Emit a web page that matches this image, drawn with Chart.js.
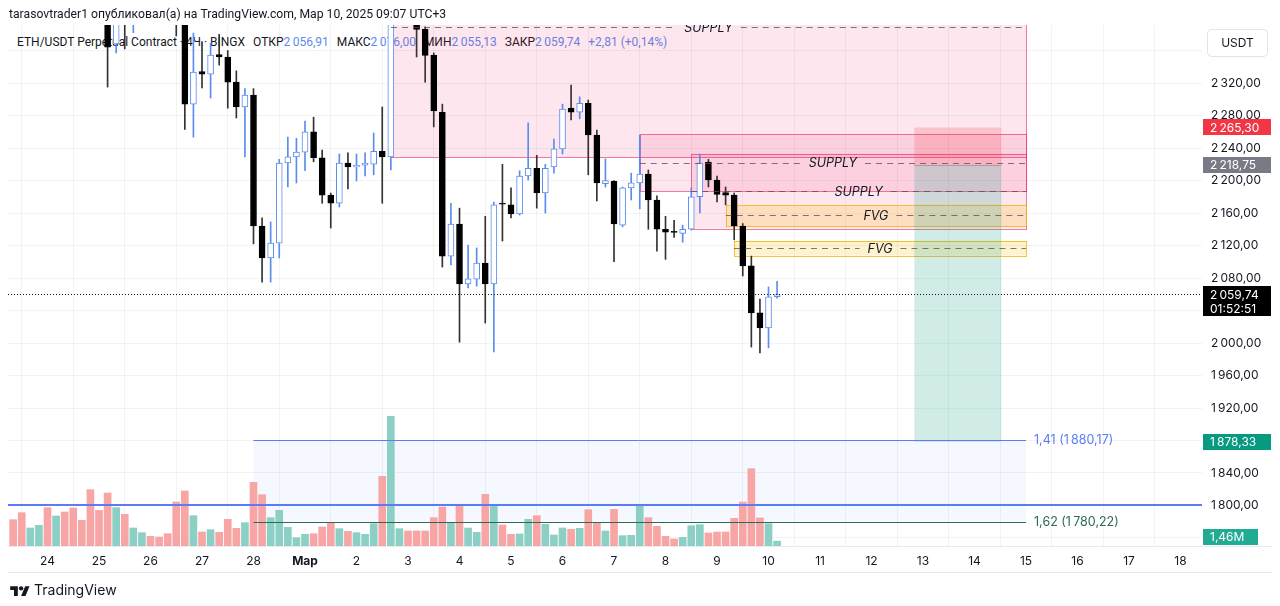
<!DOCTYPE html>
<html>
<head>
<meta charset="utf-8">
<script src="https://cdn.jsdelivr.net/npm/chart.js@4.4.1/dist/chart.umd.min.js"></script>
<style>
    body { margin: 0; background: #fff; font-family: Roboto, Inter, 'Noto Sans', sans-serif; color: #131722; }
    #wrap { position: relative; width: 1280px; height: 606px; overflow: hidden; }
    #chart { position: absolute; left: 0; top: 0; z-index: 2; }
    .hdr { position: absolute; left: 9px; top: 6px; font-size: 12.2px; line-height: 16px; white-space: nowrap; z-index: 3; }
    .legend { position: absolute; left: 17px; top: 34px; font-size: 12px; line-height: 16px; white-space: nowrap; z-index: 1; }
    .legend .k { margin-left: 8px; }
    .legend .v { color: #5b8def; }
    .legend .ch { margin-left: 8px; }
    .logo { position: absolute; left: 10px; top: 581px; font-size: 14px; line-height: 18px; display: flex; align-items: center; gap: 4px; z-index: 3; font-family: Inter, sans-serif; }
</style>
</head>
<body>
<div id="wrap">
    <div class="hdr">tarasovtrader1 опубликовал(а) на TradingView.com, Мар 10, 2025 09:07 UTC+3</div>
    <div class="legend">ETH/USDT Perpetual Contract · 4Ч · BINGX<span class="k">ОТКР</span><span class="v">2&#8201;056,91</span><span class="k">МАКС</span><span class="v">2&#8201;076,00</span><span class="k">МИН</span><span class="v">2&#8201;055,13</span><span class="k">ЗАКР</span><span class="v">2&#8201;059,74</span><span class="v ch">+2,81 (+0,14%)</span></div>
    <canvas id="chart" width="1280" height="606"></canvas>
    <div class="logo">
        <svg width="20" height="12" viewBox="0 0 36 22"><path d="M14 22H7V11H0V4h14v18z" fill="#131722"/><circle cx="20" cy="8" r="4" fill="#131722"/><path d="M28 22h-8l7.5-18h8L28 22z" fill="#131722"/></svg>
        <span>TradingView</span>
    </div>
</div>
<script>
// 4h candles, index 0 = 24 Feb 00:00; x axis unit is one day
const firstCandle = -4;

const opens = [2830, 2805, 2780, 2800, 2815, 2740, 2755, 2675, 2620, 2525,
    2490, 2450, 2368, 2430, 2400, 2430, 2470, 2455, 2440, 2420,
    2395, 2294, 2334, 2331, 2355, 2352, 2321, 2290.5, 2305, 2144,
    2104.6, 2123, 2221.5, 2229, 2235, 2260, 2228, 2182, 2172, 2221.5,
    2216.6, 2219, 2220, 2236, 2229, 2510, 2530, 2480, 2386, 2354,
    2284, 2107, 2146.5, 2072.6, 2078.5, 2098.5, 2072.6, 2172, 2170, 2159,
    2205.5, 2215, 2184.6, 2216.6, 2239, 2289, 2284, 2295, 2256, 2196,
    2199, 2145, 2191, 2197, 2208, 2176, 2140, 2137.5, 2135, 2140,
    2180, 2222.8, 2200.6, 2185, 2182, 2144, 2095, 2037, 2018.5, 2056.91];

const highs = [2845, 2820, 2815, 2830, 2825, 2770, 2760, 2690, 2640, 2545,
    2510, 2470, 2440, 2445, 2450, 2490, 2485, 2470, 2455, 2430,
    2400, 2381.5, 2371, 2369, 2380, 2360, 2335, 2313, 2313, 2154,
    2149, 2226, 2253.5, 2252, 2273, 2278, 2237.5, 2184.6, 2232.6, 2234,
    2232.6, 2234, 2258.5, 2290.5, 2550, 2550, 2540, 2490, 2389, 2357,
    2294, 2172, 2166, 2120.6, 2117, 2156, 2173.5, 2220, 2191, 2212,
    2271, 2231, 2220, 2251, 2294, 2317.5, 2303, 2299, 2262, 2226.5,
    2200, 2192, 2209, 2256, 2213, 2181, 2156, 2151, 2145, 2191,
    2232.6, 2226, 2205.5, 2192, 2184.6, 2147, 2107, 2054, 2069, 2076];

const lows = [2790, 2770, 2765, 2790, 2720, 2720, 2660, 2600, 2510, 2470,
    2430, 2315, 2357, 2362, 2382, 2415, 2440, 2425, 2400, 2378,
    2263, 2253.5, 2314, 2301.5, 2342, 2289, 2277, 2229, 2122, 2075,
    2075, 2104.6, 2192, 2197, 2212, 2223, 2172, 2141.5, 2167.4, 2189.5,
    2199.4, 2205.5, 2207, 2172, 2213, 2480, 2450, 2352, 2321, 2266,
    2093.5, 2096, 2001, 2067.7, 2070, 2024.6, 1989, 2125.5, 2154, 2157.5,
    2200.6, 2166, 2160, 2209, 2232.6, 2274.5, 2276, 2207, 2175, 2192,
    2100, 2143, 2176, 2165, 2140, 2113, 2103, 2130, 2124, 2139,
    2160, 2192, 2173.5, 2170, 2127, 2082.5, 1995, 1987.7, 1994, 2055.13];

const closes = [2805, 2780, 2800, 2815, 2740, 2755, 2675, 2620, 2525, 2490,
    2450, 2364, 2425, 2400, 2430, 2470, 2455, 2440, 2420, 2395,
    2294, 2333.5, 2331, 2354.5, 2352, 2321, 2290.5, 2305, 2144, 2104.6,
    2123, 2221.5, 2229, 2235, 2260, 2228, 2182, 2172, 2221.5, 2216.6,
    2219, 2221.5, 2236, 2229, 2510, 2530, 2480, 2386, 2354, 2285.5,
    2107, 2146.5, 2072.6, 2079, 2098.5, 2072.6, 2170, 2171, 2159, 2205.5,
    2215, 2184.6, 2215, 2239, 2288, 2284, 2295, 2256, 2197, 2200,
    2146.5, 2191, 2197, 2208, 2176, 2140, 2136.5, 2136, 2140, 2180,
    2221.5, 2200.6, 2183, 2182, 2144, 2095, 2037, 2018.5, 2056.91, 2059.74];

// volume, millions
const volumes = [7.9, 10.0, 5.4, 6.2, 11.5, 9.0, 10.2, 11.4, 7.7, 16.9,
    10.7, 15.9, 11.5, 9.5, 5.4, 4.0, 2.9, 2.7, 3.7, 13.2,
    16.5, 9.1, 4.2, 4.9, 4.1, 8.0, 5.3, 7.0, 19.1, 15.4,
    8.5, 10.7, 5.6, 2.5, 3.5, 3.7, 5.7, 7.0, 5.2, 4.4,
    4.0, 3.5, 6.7, 20.9, 38.9, 5.2, 4.5, 4.5, 4.5, 8.5,
    11.7, 7.0, 12.2, 5.4, 4.1, 15.5, 12.2, 6.3, 3.5, 3.6,
    8.0, 9.1, 6.5, 3.3, 5.4, 5.0, 5.3, 10.9, 7.0, 4.5,
    11.0, 3.1, 3.2, 12.3, 8.5, 5.9, 2.9, 2.1, 2.6, 6.1,
    6.4, 3.9, 4.2, 4.2, 8.3, 13.2, 23.2, 8.4, 6.7, 1.46];

const dayLabels = ['24', '25', '26', '27', '28', 'Мар', '2', '3', '4', '5', '6', '7',
    '8', '9', '10', '11', '12', '13', '14', '15', '16', '17', '18'];
const priceTicks = [1760, 1800, 1840, 1880, 1920, 1960, 2000, 2040, 2080, 2120,
    2160, 2200, 2240, 2280, 2320, 2360];

// drawings (days / prices)
const supplyZones = [
    { from: 6.67, to: 19, top: 2549, bottom: 2229 },
    { from: 11.5, to: 19, top: 2257, bottom: 2187 },
    { from: 12.5, to: 19, top: 2233, bottom: 2141 }
];
const fvgZones = [
    { from: 13.17, to: 19, top: 2170, bottom: 2144 },
    { from: 13.33, to: 19, top: 2126, bottom: 2107.5 }
];
const shortPosition = { from: 16.83, to: 18.52, entry: 2218.75, stop: 2265.30, target: 1878.33 };
const fibLevels = [
    { ratio: '1,41', price: 1880.17, color: '#5b7cf5' },
    { ratio: '1,62', price: 1780.22, color: '#2d6b52' }
];
const fibFrom = 4, fibTo = 19;
const hLine = 1800;
const lastPrice = 2059.74;
const countdown = '01:52:51';

const BLUE = '#5b8def';
const UP_VOL = '#8ccfc4';
const DOWN_VOL = '#f7a5a5';

function fmtPrice(v) {
    const parts = v.toFixed(2).split('.');
    return parts[0].replace(/\B(?=(\d{3})+(?!\d))/g, '\u2009') + ',' + parts[1];
}

const times = opens.map((_, i) => (firstCandle + i) / 6);
const isUp = closes.map((c, i) => c >= opens[i]);

const bodies = times.map((t, i) => ({ x: t, y: [opens[i], closes[i]] }));
const wicks = times.map((t, i) => ({ x: t, y: [lows[i], highs[i]] }));
const vols = times.map((t, i) => ({ x: t, y: volumes[i] }));

function labelOnLine(ctx, x0, x1, yy, text) {
    ctx.font = 'italic 12.5px Inter, sans-serif';
    const w = ctx.measureText(text).width;
    const cx = (x0 + x1) / 2;
    ctx.strokeStyle = 'rgba(90, 70, 100, 0.75)';
    ctx.lineWidth = 1;
    ctx.setLineDash([6, 5]);
    ctx.beginPath();
    ctx.moveTo(x0, Math.round(yy) + 0.5);
    ctx.lineTo(cx - w / 2 - 8, Math.round(yy) + 0.5);
    ctx.moveTo(cx + w / 2 + 8, Math.round(yy) + 0.5);
    ctx.lineTo(x1, Math.round(yy) + 0.5);
    ctx.stroke();
    ctx.setLineDash([]);
    ctx.fillStyle = '#131722';
    ctx.textAlign = 'center';
    ctx.textBaseline = 'middle';
    ctx.fillText(text, cx, yy + 1);
}

function tag(ctx, yy, text, bg, w) {
    ctx.fillStyle = bg;
    ctx.fillRect(1203, Math.round(yy - 8), w || 68, 16);
    ctx.fillStyle = '#fff';
    ctx.font = '12px Inter, sans-serif';
    ctx.textAlign = 'left';
    ctx.textBaseline = 'middle';
    ctx.fillText(text, 1210, yy + 0.5);
}

const drawings = {
    id: 'drawings',
    beforeDatasetsDraw(chart) {
        const { ctx, chartArea: a, scales: { x, y } } = chart;
        ctx.save();
        ctx.beginPath();
        ctx.rect(a.left, a.top, a.right - a.left, a.bottom - a.top);
        ctx.clip();

        // fib zone
        const f0 = x.getPixelForValue(fibFrom), f1 = x.getPixelForValue(fibTo);
        const fy0 = y.getPixelForValue(fibLevels[0].price), fy1 = y.getPixelForValue(fibLevels[1].price);
        ctx.fillStyle = 'rgba(41, 98, 255, 0.045)';
        ctx.fillRect(f0, fy0, f1 - f0, fy1 - fy0);

        supplyZones.forEach(z => {
            const x0 = x.getPixelForValue(z.from), x1 = x.getPixelForValue(z.to);
            const y0 = y.getPixelForValue(z.top), y1 = y.getPixelForValue(z.bottom);
            ctx.fillStyle = 'rgba(233, 30, 99, 0.11)';
            ctx.fillRect(x0, y0, x1 - x0, y1 - y0);
            ctx.strokeStyle = 'rgba(233, 30, 99, 0.6)';
            ctx.lineWidth = 1;
            ctx.strokeRect(Math.round(x0) + 0.5, Math.round(y0) + 0.5, Math.round(x1 - x0), Math.round(y1 - y0));
        });
        fvgZones.forEach(z => {
            const x0 = x.getPixelForValue(z.from), x1 = x.getPixelForValue(z.to);
            const y0 = y.getPixelForValue(z.top), y1 = y.getPixelForValue(z.bottom);
            ctx.fillStyle = 'rgba(255, 193, 7, 0.2)';
            ctx.fillRect(x0, y0, x1 - x0, y1 - y0);
            ctx.strokeStyle = 'rgba(240, 180, 20, 0.8)';
            ctx.lineWidth = 1;
            ctx.strokeRect(Math.round(x0) + 0.5, Math.round(y0) + 0.5, Math.round(x1 - x0), Math.round(y1 - y0));
        });

        // short position
        const p = shortPosition;
        const px0 = x.getPixelForValue(p.from), px1 = x.getPixelForValue(p.to);
        const ys = y.getPixelForValue(p.stop), ye = y.getPixelForValue(p.entry), yt = y.getPixelForValue(p.target);
        ctx.fillStyle = 'rgba(242, 54, 69, 0.2)';
        ctx.fillRect(px0, ys, px1 - px0, ye - ys);
        ctx.fillStyle = 'rgba(8, 153, 129, 0.19)';
        ctx.fillRect(px0, ye, px1 - px0, yt - ye);
        ctx.restore();
    },
    afterDatasetsDraw(chart) {
        const { ctx, chartArea: a, scales: { x, y } } = chart;
        ctx.save();
        ctx.beginPath();
        ctx.rect(a.left, a.top, a.right - a.left, a.bottom - a.top);
        ctx.clip();

        supplyZones.forEach(z => {
            labelOnLine(ctx, x.getPixelForValue(z.from), x.getPixelForValue(z.to),
                y.getPixelForValue((z.top + z.bottom) / 2), 'SUPPLY');
        });
        fvgZones.forEach(z => {
            labelOnLine(ctx, x.getPixelForValue(z.from), x.getPixelForValue(z.to),
                y.getPixelForValue((z.top + z.bottom) / 2), 'FVG');
        });

        // position entry
        const p = shortPosition;
        const ye = Math.round(y.getPixelForValue(p.entry)) + 0.5;
        ctx.strokeStyle = 'rgba(120, 123, 134, 0.5)';
        ctx.beginPath();
        ctx.moveTo(x.getPixelForValue(p.from), ye);
        ctx.lineTo(x.getPixelForValue(p.to), ye);
        ctx.stroke();

        // horizontal line
        const yh = Math.round(y.getPixelForValue(hLine));
        ctx.strokeStyle = '#5c7cf7';
        ctx.lineWidth = 2;
        ctx.beginPath();
        ctx.moveTo(a.left, yh);
        ctx.lineTo(a.right, yh);
        ctx.stroke();

        // fib levels
        const f0 = x.getPixelForValue(fibFrom), f1 = x.getPixelForValue(fibTo);
        fibLevels.forEach(l => {
            const yy = Math.round(y.getPixelForValue(l.price)) + 0.5;
            ctx.strokeStyle = l.color;
            ctx.lineWidth = 1;
            ctx.beginPath();
            ctx.moveTo(f0, yy);
            ctx.lineTo(f1, yy);
            ctx.stroke();
            ctx.fillStyle = l.color;
            ctx.font = '12.5px Inter, sans-serif';
            ctx.textAlign = 'left';
            ctx.textBaseline = 'middle';
            ctx.fillText(l.ratio + ' (' + fmtPrice(l.price) + ')', f1 + 8, yy);
        });

        // last price
        const yl = Math.round(y.getPixelForValue(lastPrice)) + 0.5;
        ctx.strokeStyle = '#131722';
        ctx.lineWidth = 1;
        ctx.setLineDash([1, 2]);
        ctx.beginPath();
        ctx.moveTo(a.left, yl);
        ctx.lineTo(a.right, yl);
        ctx.stroke();
        ctx.setLineDash([]);
        ctx.restore();
    },
    afterDraw(chart) {
        const { ctx, chartArea: a, scales: { y, v } } = chart;
        ctx.save();
        // pane borders
        ctx.strokeStyle = '#e8eaef';
        ctx.lineWidth = 1;
        ctx.beginPath();
        ctx.moveTo(a.left, a.bottom + 0.5);
        ctx.lineTo(1272, a.bottom + 0.5);
        ctx.moveTo(a.left, a.bottom + 26.5);
        ctx.lineTo(1272, a.bottom + 26.5);
        ctx.stroke();

        tag(ctx, y.getPixelForValue(shortPosition.stop), fmtPrice(shortPosition.stop), '#f23645');
        tag(ctx, y.getPixelForValue(shortPosition.entry), fmtPrice(shortPosition.entry), '#787b86');
        tag(ctx, y.getPixelForValue(shortPosition.target), fmtPrice(shortPosition.target), '#089981');

        const yl = y.getPixelForValue(lastPrice);
        ctx.fillStyle = '#000';
        ctx.fillRect(1203, Math.round(yl - 8), 68, 30);
        ctx.fillStyle = '#fff';
        ctx.font = '12px Inter, sans-serif';
        ctx.textAlign = 'left';
        ctx.textBaseline = 'middle';
        ctx.fillText(fmtPrice(lastPrice), 1210, yl + 0.5);
        ctx.fillText(countdown, 1210, yl + 14.5);

        const lastVol = volumes[volumes.length - 1];
        const yv = Math.min(v.getPixelForValue(lastVol), a.bottom - 9);
        tag(ctx, yv, lastVol.toFixed(2).replace('.', ',') + 'M', '#22ab94', 55);

        // currency button
        ctx.fillStyle = '#fff';
        ctx.strokeStyle = '#e0e3eb';
        ctx.beginPath();
        ctx.roundRect(1207.5, 29.5, 60, 27, 4);
        ctx.fill();
        ctx.stroke();
        ctx.fillStyle = '#131722';
        ctx.font = '12px Inter, sans-serif';
        ctx.textAlign = 'center';
        ctx.fillText('USDT', 1237.5, 43);
        ctx.restore();
    }
};

new Chart(document.getElementById('chart'), {
    type: 'bar',
    data: {
        datasets: [
            {
                label: 'bodies',
                data: bodies,
                yAxisID: 'y',
                grouped: false,
                barThickness: 6,
                minBarLength: 1,
                borderWidth: 1,
                borderSkipped: false,
                backgroundColor: isUp.map(u => u ? '#ffffff' : '#000000'),
                borderColor: isUp.map(u => u ? BLUE : '#000000'),
                order: 0
            },
            {
                label: 'wicks',
                data: wicks,
                yAxisID: 'y',
                grouped: false,
                barThickness: 1,
                backgroundColor: isUp.map(u => u ? BLUE : '#333333'),
                order: 1
            },
            {
                label: 'volume',
                data: vols,
                yAxisID: 'v',
                grouped: false,
                barThickness: 7,
                backgroundColor: isUp.map(u => u ? UP_VOL : DOWN_VOL),
                order: 2
            }
        ]
    },
    options: {
        responsive: false,
        animation: false,
        devicePixelRatio: 1,
        layout: { padding: { left: 8, top: 25, right: 0, bottom: 34 } },
        plugins: { legend: { display: false }, tooltip: { enabled: false } },
        scales: {
            x: {
                type: 'linear',
                min: -0.767,
                max: 22.417,
                offset: false,
                grid: { color: 'rgba(42, 46, 57, 0.06)', drawTicks: false },
                border: { display: false },
                ticks: {
                    autoSkip: false,
                    maxRotation: 0,
                    minRotation: 0,
                    padding: 8,
                    color: '#131722',
                    font: ctx => ({ family: 'Inter', size: 12, weight: ctx.tick && ctx.tick.value === 5 ? 'bold' : 'normal' }),
                    callback: val => dayLabels[val] ?? ''
                },
                afterBuildTicks: s => { s.ticks = dayLabels.map((_, d) => ({ value: d })); },
                afterFit: s => { s.height = 26; }
            },
            y: {
                type: 'linear',
                position: 'right',
                min: 1750.15,
                max: 2391.4,
                grid: { color: 'rgba(42, 46, 57, 0.06)', drawTicks: false },
                border: { display: false },
                ticks: {
                    autoSkip: false,
                    padding: 9,
                    color: '#131722',
                    font: { family: 'Inter', size: 12 },
                    callback: val => fmtPrice(val)
                },
                afterBuildTicks: s => { s.ticks = priceTicks.map(p => ({ value: p })); },
                afterFit: s => { s.width = 78; }
            },
            v: {
                type: 'linear',
                display: false,
                min: 0,
                max: 156.3
            }
        }
    },
    plugins: [drawings]
});
</script>
</body>
</html>
